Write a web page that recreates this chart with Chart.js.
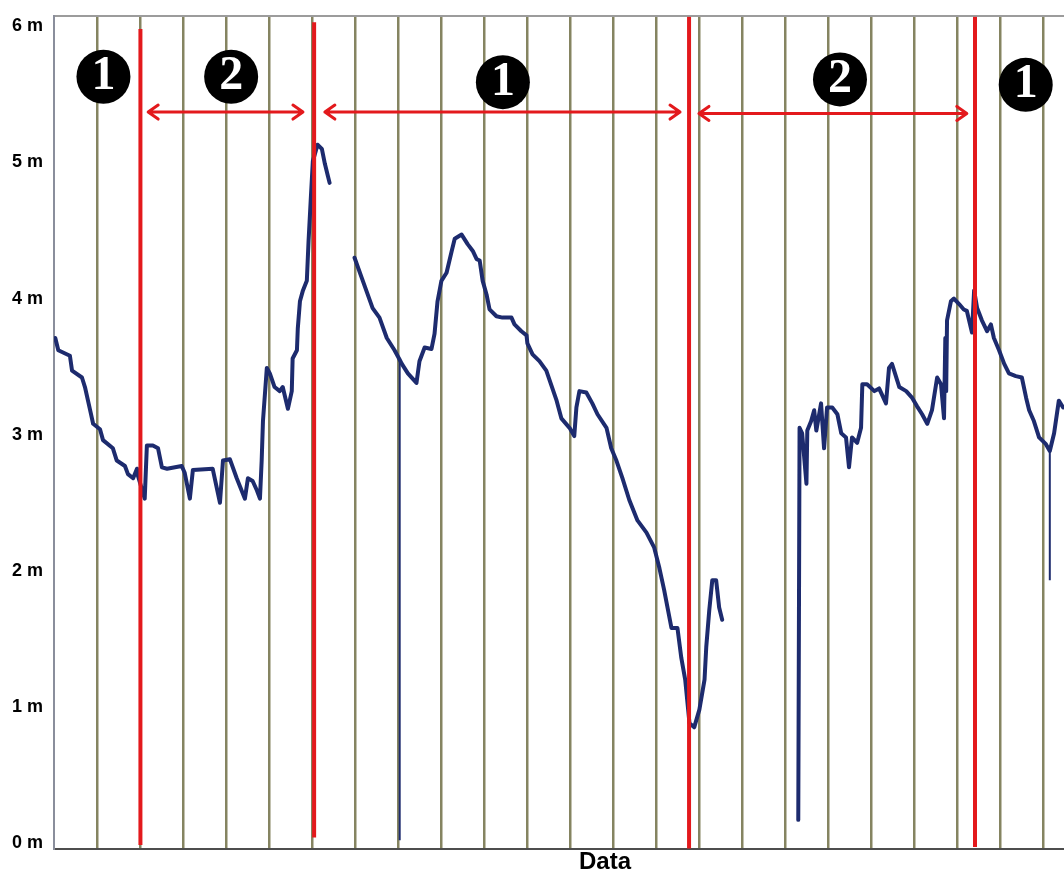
<!DOCTYPE html>
<html>
<head>
<meta charset="utf-8">
<script src="https://cdn.jsdelivr.net/npm/chart.js@4/dist/chart.umd.min.js"></script>
<style>
  html, body { margin: 0; padding: 0; background: #fff; overflow: hidden; }
  #wrap { width: 1064px; height: 872px; overflow: hidden; position: relative; }
  #c { position: absolute; left: 0; top: 0; }
</style>
</head>
<body>
<div id="wrap"><canvas id="c" width="1156" height="872"></canvas></div>
<script>
// Recorded water level: x in grid intervals, y in metres; null breaks the record
const levelX = [
  0.03, 0.10, 0.37, 0.42, 0.65, 0.72, 0.84, 0.91, 1.07, 1.14, 1.37, 1.46, 1.65, 1.72, 1.84, 1.93, 1.95,
  2.11, 2.16, 2.30, 2.42, 2.51, 2.63, 2.97, 3.04, 3.16, 3.23, 3.69, 3.86, 3.93, 4.09, 4.25, 4.44, 4.51,
  4.62, 4.72, 4.79, 4.83, 4.86, 4.95, 5.02, 5.13, 5.25, 5.32, 5.44, 5.53, 5.55, 5.65, 5.67, 5.72, 5.79,
  5.88, 5.92, 5.97, 6.02, 6.13, 6.23, 6.30, 6.37, 6.41,
  6.60,
  6.99, 7.16, 7.41, 7.57, 7.74, 7.92, 8.04, 8.09, 8.23, 8.43, 8.50, 8.62, 8.78, 8.85, 8.92, 9.01, 9.13,
  9.25, 9.32, 9.48, 9.62, 9.74, 9.83, 9.90, 9.97, 10.06, 10.13, 10.29, 10.43, 10.64, 10.71, 10.87, 10.99,
  11.01, 11.13, 11.29, 11.45, 11.57, 11.69, 11.80, 11.99, 12.10, 12.15, 12.22, 12.38, 12.52, 12.64, 12.85,
  12.96, 13.08, 13.22, 13.38, 13.57, 13.78, 13.96, 14.08, 14.19, 14.36, 14.50, 14.59, 14.68, 14.78, 14.89,
  15.01, 15.13, 15.17, 15.24, 15.31, 15.40, 15.47, 15.54,
  16.50,
  17.31, 17.34, 17.40, 17.50, 17.52, 17.61, 17.68, 17.73, 17.84, 17.91, 17.98, 18.10, 18.22, 18.31, 18.42,
  18.49, 18.56, 18.68, 18.77, 18.80, 18.91, 19.08, 19.19, 19.35, 19.42, 19.49, 19.66, 19.82, 19.96, 20.07,
  20.19, 20.31, 20.42, 20.54, 20.63, 20.70, 20.73, 20.75, 20.77, 20.86, 20.93, 21.05, 21.16, 21.23, 21.35,
  21.40, 21.47, 21.58, 21.70, 21.79, 21.86, 21.98, 22.10, 22.21, 22.37, 22.51, 22.61, 22.68, 22.79, 22.91,
  23.07, 23.16, 23.26, 23.37, 23.47
];
const levelY = [
  3.71, 3.62, 3.58, 3.47, 3.42, 3.35, 3.18, 3.08, 3.04, 2.96, 2.90, 2.81, 2.77, 2.71, 2.68, 2.75, 2.70,
  2.53, 2.92, 2.92, 2.90, 2.76, 2.75, 2.77, 2.72, 2.53, 2.74, 2.75, 2.50, 2.81, 2.82, 2.68, 2.53, 2.68,
  2.66, 2.59, 2.53, 2.81, 3.10, 3.49, 3.45, 3.35, 3.32, 3.35, 3.19, 3.32, 3.56, 3.62, 3.78, 3.98, 4.06,
  4.13, 4.42, 4.72, 5.01, 5.13, 5.10, 4.99, 4.90, 4.85,
  null,
  4.30, 4.15, 3.93, 3.86, 3.71, 3.62, 3.55, 3.52, 3.45, 3.38, 3.54, 3.64, 3.63, 3.74, 3.98, 4.13, 4.19,
  4.35, 4.44, 4.47, 4.40, 4.35, 4.29, 4.28, 4.13, 4.03, 3.92, 3.87, 3.86, 3.86, 3.81, 3.76, 3.73,
  3.67, 3.59, 3.54, 3.47, 3.36, 3.25, 3.12, 3.05, 2.99, 3.20, 3.32, 3.31, 3.23, 3.15, 3.05,
  2.90, 2.81, 2.68, 2.52, 2.37, 2.28, 2.17, 2.02, 1.86, 1.58, 1.58, 1.36, 1.20, 0.88, 0.85,
  0.98, 1.20, 1.44, 1.71, 1.93, 1.93, 1.73, 1.64,
  null,
  0.17, 3.05, 3.01, 2.64, 3.03, 3.10, 3.18, 3.03, 3.23, 2.90, 3.20, 3.20, 3.15, 3.01, 2.98,
  2.76, 2.98, 2.94, 3.05, 3.37, 3.37, 3.32, 3.34, 3.23, 3.49, 3.52, 3.35, 3.32, 3.27, 3.21,
  3.15, 3.08, 3.18, 3.42, 3.37, 3.12, 3.71, 3.32, 3.84, 3.98, 4.00, 3.96, 3.92, 3.91, 3.75,
  4.06, 3.93, 3.84, 3.76, 3.81, 3.71, 3.62, 3.52, 3.45, 3.43, 3.42, 3.27, 3.18, 3.10, 2.98,
  2.93, 2.88, 3.01, 3.25, 3.20
];

// Short sensor drop-outs (thin vertical strokes)
const dropX = [8.04, 23.16];
const dropTop = [3.55, 2.88];
const dropBottom = [0.02, 1.93];

// Red phase boundaries
const boundX = [2.01, 6.05, 14.77, 21.42];
const boundTop = [5.98, 6.03, 6.07, 6.07];
const boundBottom = [-0.015, 0.04, -0.04, -0.03];

// Phase span arrows
const arrowFrom = [2.19, 6.30, 15.00];
const arrowTo = [5.79, 14.56, 21.23];
const arrowY = [5.37, 5.37, 5.36];

// Phase badges
const phaseX = [1.15, 4.12, 10.44, 18.28, 22.60];
const phaseY = [5.63, 5.63, 5.59, 5.61, 5.57];
const phaseLabels = ['1', '2', '1', '2', '1'];

const yTicks = [0, 1, 2, 3, 4, 5, 6];

const levelData = levelX.map((x, i) => ({ x: x, y: levelY[i] }));
const dropData = [];
dropX.forEach((x, i) => {
  dropData.push({ x: x, y: dropTop[i] }, { x: x, y: dropBottom[i] }, { x: x, y: null });
});
const boundData = [];
boundX.forEach((x, i) => {
  boundData.push({ x: x, y: boundTop[i] }, { x: x, y: boundBottom[i] }, { x: x, y: null });
});
const phaseData = phaseX.map((x, i) => ({ x: x, y: phaseY[i] }));

const RED = '#e3191c';
const NAVY = '#1d2b6e';
const OLIVE = '#858461';
const SANS = '"Liberation Sans", Arial, sans-serif';

const overlay = {
  id: 'overlay',
  afterDatasetsDraw(chart) {
    const { ctx, scales: { x, y } } = chart;
    ctx.save();
    // span arrows with open heads at both ends
    ctx.strokeStyle = RED;
    ctx.lineWidth = 3;
    ctx.lineCap = 'round';
    ctx.lineJoin = 'round';
    arrowFrom.forEach((a, i) => {
      const x1 = x.getPixelForValue(a);
      const x2 = x.getPixelForValue(arrowTo[i]);
      const py = y.getPixelForValue(arrowY[i]);
      ctx.beginPath();
      ctx.moveTo(x1, py); ctx.lineTo(x2, py);
      ctx.moveTo(x1 + 10, py - 7); ctx.lineTo(x1, py); ctx.lineTo(x1 + 10, py + 7);
      ctx.moveTo(x2 - 10, py - 7); ctx.lineTo(x2, py); ctx.lineTo(x2 - 10, py + 7);
      ctx.stroke();
    });
    // badge digits
    ctx.fillStyle = '#fff';
    ctx.font = 'bold 48px "Liberation Serif", "DejaVu Serif", serif';
    ctx.textAlign = 'center';
    ctx.textBaseline = 'middle';
    phaseX.forEach((v, i) => {
      ctx.fillText(phaseLabels[i], x.getPixelForValue(v), y.getPixelForValue(phaseY[i]));
    });
    ctx.restore();
  }
};

new Chart(document.getElementById('c'), {
  type: 'line',
  data: {
    datasets: [
      {
        type: 'scatter',
        data: phaseData,
        pointRadius: 27,
        pointHoverRadius: 27,
        pointBackgroundColor: '#000',
        pointBorderWidth: 0,
        showLine: false
      },
      {
        data: boundData,
        borderColor: RED,
        borderWidth: 4,
        pointRadius: 0,
        spanGaps: false,
        tension: 0
      },
      {
        data: levelData,
        borderColor: NAVY,
        borderWidth: 4,
        borderJoinStyle: 'round',
        borderCapStyle: 'round',
        pointRadius: 0,
        spanGaps: false,
        tension: 0
      },
      {
        data: dropData,
        borderColor: NAVY,
        borderWidth: 2,
        pointRadius: 0,
        spanGaps: false,
        tension: 0
      }
    ]
  },
  options: {
    responsive: false,
    animation: false,
    events: [],
    layout: { autoPadding: false, padding: { left: 0, right: 0, top: 14, bottom: 0 } },
    plugins: { legend: { display: false }, tooltip: { enabled: false } },
    scales: {
      x: {
        type: 'linear',
        position: 'bottom',
        min: 0,
        max: 25.63,
        ticks: { display: false, stepSize: 1 },
        grid: {
          drawTicks: false,
          lineWidth: 2.5,
          color: (c) => (c.tick && c.tick.value === 0 ? 'rgba(0,0,0,0)' : OLIVE)
        },
        border: { display: true, color: '#4d4d4d', width: 2 },
        title: {
          display: true,
          text: 'Data',
          color: '#000',
          font: { family: SANS, size: 24, weight: 'bold', lineHeight: 1 },
          padding: { top: 0, bottom: -2 }
        },
        afterFit(s) { s.height = 23; }
      },
      xTop: {
        type: 'linear',
        position: 'top',
        min: 0,
        max: 1,
        ticks: { display: false },
        grid: { display: false, drawTicks: false },
        border: { display: true, color: '#9c9c9c', width: 2 },
        afterFit(s) { s.height = 0; }
      },
      y: {
        type: 'linear',
        min: -0.044,
        max: 6.073,
        afterBuildTicks(s) { s.ticks = yTicks.map(v => ({ value: v })); },
        afterFit(s) { s.width = 54; },
        grid: { display: false, drawTicks: false },
        border: { display: true, color: '#8a8e9c', width: 2 },
        ticks: {
          padding: 11,
          color: '#000',
          font: { family: SANS, size: 18, weight: 'bold', lineHeight: 0.6 },
          callback: (v) => v + ' m'
        }
      }
    }
  },
  plugins: [overlay]
});
</script>
</body>
</html>
